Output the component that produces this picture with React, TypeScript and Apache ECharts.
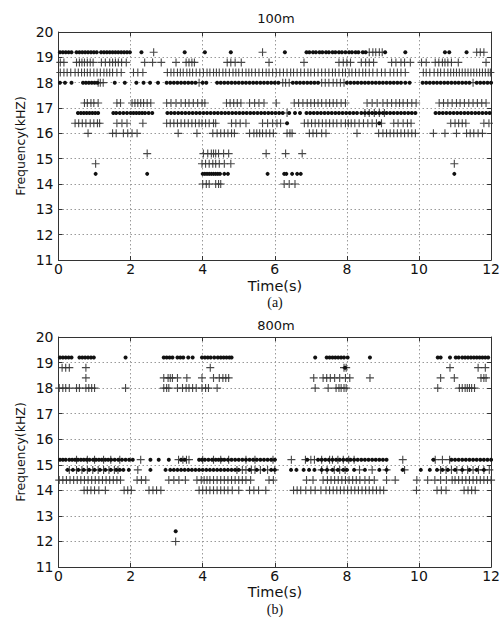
import React, { useEffect, useRef } from "react";
import * as echarts from "echarts";

// ---------- (a) 100m ----------
const a192Dots = [0.04,0.12,0.2,0.28,0.36,0.5,0.58,0.66,0.74,0.82,0.9,0.98,1.06,1.18,1.26,1.34,1.42,1.5,1.58,1.66,1.74,1.82,1.9,1.98,2.3,3.5,4.06,4.78,6.28,6.88,6.96,7.06,7.14,7.24,7.32,7.42,7.5,7.6,7.68,7.78,7.86,7.96,8.06,8.14,8.24,8.32,8.44,8.52,9.06,9.62,10.72,10.84,11.32];
const a192Plus = [2.64,5.66,8.62,8.72,8.8,8.9,8.98,11.6,11.7,11.8];
const a188Plus = [0.05,0.15,0.5,0.58,0.65,0.72,0.8,0.88,0.96,1.19,1.3,1.42,1.5,1.58,1.66,1.75,1.88,2.39,2.61,2.85,3.26,3.54,3.62,3.7,3.77,4.68,4.78,4.9,5.07,5.84,6.81,7.78,7.9,8.0,8.1,8.4,8.52,8.62,8.74,9.24,9.36,9.5,9.6,9.76,10.07,10.2,10.45,10.55,10.65,10.72,10.8,10.9,11.09,11.86];
const a184Plus = [0.05,0.15,0.24,0.34,0.46,0.55,0.64,0.72,0.8,0.88,0.98,1.07,1.16,1.26,1.34,1.42,1.5,1.62,1.74,2.08,2.2,2.34,3.02,3.12,3.2,3.3,3.38,3.46,3.56,3.64,3.72,3.82,3.92,4.02,4.12,4.2,4.3,4.38,4.46,4.56,4.64,4.74,4.84,4.92,5.0,5.1,5.2,5.28,5.36,5.46,5.56,5.66,5.76,5.84,5.94,6.04,6.14,6.24,6.34,6.44,6.52,6.62,6.72,6.82,6.92,7.0,7.1,7.2,7.3,7.4,7.5,7.6,7.68,7.78,7.88,7.96,8.06,8.14,8.24,8.34,8.44,8.52,8.62,8.72,8.84,8.96,9.06,9.2,9.3,9.4,9.5,9.62,10.12,10.2,10.3,10.42,10.52,10.6,10.7,10.8,10.88,10.96,11.04,11.12,11.2,11.28,11.36,11.44,11.52,11.6,11.68,11.76,11.84,11.92,11.98];
const a180Dots = [0.04,0.18,0.36,0.68,0.76,0.84,0.92,1.0,1.08,1.56,1.84,2.16,2.36,2.54,2.76,3.0,3.1,3.2,3.3,3.4,3.5,3.6,3.7,3.8,4.0,4.1,4.4,4.5,4.6,4.7,4.8,4.9,5.0,5.1,5.2,5.3,5.4,5.5,5.6,5.7,5.8,5.9,6.0,6.1,6.5,6.6,6.7,6.8,6.9,7.0,7.1,7.2,8.0,8.1,8.2,8.3,8.4,8.5,8.6,8.7,8.8,8.9,9.0,9.1,9.2,9.3,9.4,9.5,9.62,9.74,10.1,10.2,10.3,10.4,10.5,10.6,10.7,10.8,10.9,11.0,11.1,11.2,11.3,11.4,11.6,11.7,11.8,11.9,12.0];
const a180Plus = [1.1,1.16,1.24,3.9,6.22,6.3,6.4,7.3,7.4,7.5,7.62,7.72,7.82,7.92,11.5];
const a172Plus = [0.72,0.8,0.9,0.98,1.1,1.62,1.72,2.04,2.12,2.2,2.28,2.36,2.46,2.56,3.0,3.12,3.26,3.4,3.52,3.62,3.74,3.86,3.98,4.06,4.66,4.76,4.86,4.96,5.06,5.3,5.44,5.56,5.7,6.04,6.54,6.66,6.78,6.9,7.0,7.1,7.2,7.3,7.42,7.52,7.62,7.72,7.84,7.96,8.56,8.7,8.84,9.0,9.12,9.24,9.36,9.46,9.56,9.68,9.8,9.92,10.56,10.68,10.8,10.92,11.04,11.14,11.26,11.38,11.5,11.62,11.74,11.86];
const a168Dots = [0.54,0.62,0.7,0.78,0.86,0.94,1.02,1.1,1.52,1.6,1.7,1.8,1.9,2.0,2.08,2.16,2.24,2.32,2.4,2.5,2.6,3.02,3.12,3.22,3.32,3.42,3.52,3.62,3.72,3.82,3.92,4.02,4.12,4.22,4.32,4.42,4.52,4.62,4.72,4.82,4.92,5.02,5.12,5.22,5.32,5.42,5.52,5.62,5.72,5.82,5.92,6.02,6.12,6.22,6.4,6.56,6.7,6.88,6.98,7.08,7.18,7.28,7.38,7.48,7.58,7.68,7.78,7.88,7.98,8.08,8.18,8.28,8.4,8.5,8.6,8.7,8.8,8.9,9.0,9.1,9.2,9.3,9.4,9.5,9.6,9.7,9.8,9.9,10.46,10.56,10.66,10.76,10.86,10.96,11.06,11.16,11.26,11.36,11.46,11.56,11.66,11.76,11.86,11.96];
const a168Plus = [6.34,8.5,8.62,8.76,8.9,9.04];
const a164Plus = [0.46,0.56,0.66,0.76,0.88,0.98,1.08,1.14,1.62,1.76,1.9,2.34,3.0,3.1,3.2,3.3,3.4,3.5,3.6,3.7,3.8,3.9,3.98,4.08,4.18,4.3,4.36,4.8,4.92,5.04,5.2,5.66,5.8,5.94,6.06,6.16,6.82,6.92,7.02,7.12,7.22,7.32,7.42,7.52,7.62,7.72,7.84,7.96,8.04,8.12,8.22,8.34,8.46,8.58,8.7,8.82,8.96,9.3,9.42,9.56,9.68,9.78,10.88,11.0,11.1,11.2,11.3,11.8,11.94];
const a164Dots = [6.34,8.9];
const a160Plus = [0.82,1.5,1.6,1.8,1.92,2.04,2.18,3.32,3.84,4.28,4.4,4.5,4.6,4.7,4.8,4.88,5.3,5.42,5.5,5.58,5.66,5.76,5.86,5.96,6.34,6.42,6.48,6.96,7.06,7.16,7.3,7.42,8.28,8.88,9.0,9.1,9.2,9.3,9.4,9.5,9.6,9.7,9.8,9.9,10.4,10.72,11.04,11.32,11.42,11.52,11.64,11.76];
const a152Plus = [2.46,4.02,4.14,4.24,4.3,4.36,4.44,4.58,4.72,5.76,6.3,6.76];
const a148Plus = [1.03,3.98,4.08,4.18,4.28,4.36,4.46,4.6,4.78,10.98];
const a144Dots = [1.03,2.46,4.0,4.06,4.12,4.18,4.24,4.3,4.36,4.42,4.48,4.6,4.7,5.8,6.26,6.32,6.48,6.62,6.72,10.98];
const a140Plus = [4.0,4.1,4.18,4.36,4.44,4.5,6.26,6.4,6.56];

// ---------- (b) 800m ----------
const b192Dots = [0.04,0.12,0.2,0.28,0.36,0.58,0.66,0.74,0.82,0.9,0.98,1.86,2.92,3.0,3.08,3.16,3.3,3.38,3.46,3.6,3.72,3.98,4.06,4.14,4.22,4.32,4.42,4.5,4.58,4.66,4.74,4.8,7.12,7.44,7.52,7.6,7.68,7.76,7.84,7.92,8.02,8.64,10.52,10.6,10.86,11.02,11.1,11.2,11.28,11.36,11.44,11.52,11.6,11.68,11.76,11.84,11.92];
const b188Plus = [0.1,0.2,0.3,0.76,4.21,7.92,7.98,10.86,11.64,11.84];
const b188Dots = [7.95];
const b184Plus = [0.76,2.92,3.04,3.1,3.16,3.3,3.56,3.98,4.3,4.46,4.56,4.64,4.72,7.08,7.34,7.44,7.54,7.66,7.8,7.96,8.08,8.64,10.6,10.98,11.72,11.8,11.86];
const b180Plus = [0.02,0.12,0.2,0.3,0.5,0.58,0.76,0.84,0.92,1.0,1.86,2.92,3.0,3.06,3.3,3.44,3.54,3.62,3.72,3.82,3.98,4.08,4.16,4.4,7.12,7.48,7.7,7.78,7.84,7.92,7.98,10.52,11.12,11.2,11.28,11.34,11.4,11.46,11.54];
const b152Dots = [0.04,0.12,0.2,0.3,0.38,0.46,0.54,0.62,0.7,0.78,0.86,0.96,1.04,1.12,1.2,1.3,1.38,1.46,1.56,1.66,1.76,1.86,1.96,2.06,2.55,2.78,3.06,3.4,3.5,3.9,3.98,4.06,4.16,4.26,4.36,4.44,4.52,4.6,4.7,4.8,4.9,5.0,5.1,5.2,5.3,5.4,5.5,5.6,5.7,5.8,5.9,6.0,6.9,7.2,7.3,7.4,7.5,7.6,7.7,7.8,7.9,8.0,8.1,8.2,8.3,8.4,8.5,8.6,8.7,8.8,8.9,9.0,9.1,10.4,10.9,11.0,11.1,11.2,11.3,11.4,11.5,11.6,11.7,11.8,11.9,12.0];
const b152Plus = [0.5,0.8,1.0,1.25,1.45,1.7,2.28,3.33,3.45,3.55,3.62,4.0,4.3,4.5,4.72,5.2,5.45,5.95,6.46,6.85,7.0,7.1,7.3,7.52,7.6,7.75,7.9,8.05,8.2,9.55,10.45,10.65,10.85];
const b148Dots = [0.25,0.4,0.55,0.7,0.85,1.0,1.15,1.3,1.45,1.6,1.7,1.8,1.95,2.55,2.97,3.1,3.2,3.3,3.4,3.5,3.6,3.7,3.8,3.9,4.0,4.1,4.2,4.3,4.4,4.5,4.6,4.7,4.8,4.9,5.0,5.3,5.5,5.7,5.9,6.0,6.45,6.6,6.8,6.95,7.1,7.3,7.45,7.6,7.75,7.9,8.0,8.2,8.5,8.9,9.1,9.55,10.05,10.3,10.5,10.65,10.8,11.0,11.2,11.4,11.6,11.8];
const b148Plus = [0.3,0.5,0.65,0.8,0.95,1.1,1.25,1.4,1.55,1.65,2.2,4.95,5.1,5.2,5.35,5.45,5.6,5.8,6.0,7.3,7.45,7.65,7.8,7.95,8.35,8.7,9.1,9.6,10.6,10.75,10.9,11.05,11.2,11.35,11.5,11.65,11.8,11.95];
const b144Plus = [0.02,0.12,0.22,0.32,0.42,0.52,0.62,0.72,0.82,0.92,1.02,1.12,1.22,1.32,1.42,1.52,1.62,1.72,2.18,2.3,2.42,3.06,3.2,3.34,3.52,3.84,3.96,4.04,4.12,4.2,4.3,4.4,4.5,4.6,4.7,4.8,4.9,5.0,5.1,5.2,5.33,5.84,5.96,6.88,7.06,7.34,7.46,7.56,7.66,7.76,7.86,7.96,8.06,8.16,8.26,8.36,8.5,8.62,8.76,9.1,9.34,9.94,10.24,10.44,10.6,10.76,10.92,11.0,11.1,11.2,11.3,11.4,11.5,11.6,11.7,11.8,11.9,12.0];
const b140Plus = [0.71,0.8,0.9,1.0,1.12,1.3,1.82,1.92,2.02,2.51,2.62,2.72,2.84,3.9,4.0,4.1,4.2,4.3,4.4,4.5,4.6,4.7,4.82,5.0,5.3,5.42,5.55,5.75,6.52,6.62,6.72,6.86,7.0,7.12,7.28,7.42,7.52,7.62,7.72,7.82,7.92,8.02,8.12,8.22,8.32,8.42,8.52,8.62,8.72,8.82,8.92,9.02,9.93,10.5,10.62,10.75,11.25,11.36,11.46,11.56];
const b124Dots = [3.25];
const b120Plus = [3.25];

const xTicks = { min: 0, max: 12, interval: 2 };
const yTicks = { min: 11, max: 20, interval: 1 };

const pts = (xs: number[], y: number) => xs.map((x) => [x, y]);

const aDots = [
  ...pts(a192Dots, 19.2), ...pts(a180Dots, 18.0), ...pts(a168Dots, 16.8),
  ...pts(a164Dots, 16.4), ...pts(a144Dots, 14.4),
];
const aPlus = [
  ...pts(a192Plus, 19.2), ...pts(a188Plus, 18.8), ...pts(a184Plus, 18.4),
  ...pts(a180Plus, 18.0), ...pts(a172Plus, 17.2), ...pts(a168Plus, 16.8),
  ...pts(a164Plus, 16.4), ...pts(a160Plus, 16.0), ...pts(a152Plus, 15.2),
  ...pts(a148Plus, 14.8), ...pts(a140Plus, 14.0),
];
const bDots = [
  ...pts(b192Dots, 19.2), ...pts(b188Dots, 18.8), ...pts(b152Dots, 15.2),
  ...pts(b148Dots, 14.8), ...pts(b124Dots, 12.4),
];
const bPlus = [
  ...pts(b188Plus, 18.8), ...pts(b184Plus, 18.4), ...pts(b180Plus, 18.0),
  ...pts(b152Plus, 15.2), ...pts(b148Plus, 14.8), ...pts(b144Plus, 14.4),
  ...pts(b140Plus, 14.0), ...pts(b120Plus, 12.0),
];

const FONT = "DejaVu Sans";
const PLUS = "path://M0,3.45H8V4.55H0Z M3.45,0H4.55V8H3.45Z";

function mkX(gridIndex: number, top: boolean) {
  return {
    type: "value",
    gridIndex,
    position: top ? "top" : "bottom",
    ...xTicks,
    axisLine: { show: true, onZero: false, lineStyle: { color: "#333", width: 1 } },
    axisTick: { show: true, inside: true, length: 4, lineStyle: { color: "#333" } },
    axisLabel: top
      ? { show: false }
      : { show: true, fontFamily: FONT, fontSize: 14, color: "#111", margin: 2 },
    splitLine: top
      ? { show: false }
      : { show: true, lineStyle: { color: "#9a9a9a", type: [1.5, 2.5], width: 1 } },
  };
}
function mkY(gridIndex: number, right: boolean) {
  return {
    type: "value",
    gridIndex,
    position: right ? "right" : "left",
    ...yTicks,
    axisLine: { show: true, onZero: false, lineStyle: { color: "#333", width: 1 } },
    axisTick: { show: true, inside: true, length: 4, lineStyle: { color: "#333" } },
    axisLabel: right
      ? { show: false }
      : { show: true, fontFamily: FONT, fontSize: 14, color: "#111", margin: 5 },
    splitLine: right
      ? { show: false }
      : { show: true, lineStyle: { color: "#9a9a9a", type: [1.5, 2.5], width: 1 } },
  };
}

function dotSeries(data: number[][], gi: number) {
  return {
    type: "scatter",
    xAxisIndex: gi * 2,
    yAxisIndex: gi * 2,
    data,
    symbol: "circle",
    symbolSize: 4,
    itemStyle: { color: "#111", opacity: 1 },
    silent: true,
  };
}
function plusSeries(data: number[][], gi: number) {
  return {
    type: "scatter",
    xAxisIndex: gi * 2,
    yAxisIndex: gi * 2,
    data,
    symbol: PLUS,
    symbolSize: 8,
    itemStyle: { color: "#333", opacity: 0.9 },
    silent: true,
  };
}

function txt(text: string, x: number, y: number, size: number, opts: any = {}) {
  return {
    type: "text",
    x,
    y,
    rotation: opts.rotation || 0,
    style: {
      text,
      fontFamily: opts.family || FONT,
      fontSize: size,
      fill: "#111",
      align: "center",
      verticalAlign: "middle",
    },
  };
}

export default function App() {
  const ref = useRef<HTMLDivElement>(null);
  useEffect(() => {
    document.body.style.margin = "0";
    if (!ref.current) return;
    const chart = echarts.init(ref.current, undefined, { renderer: "svg" });
    chart.setOption({
      animation: false,
      backgroundColor: "#fff",
      grid: [
        { left: 58.5, right: 10, top: 32, height: 228, show: false },
        { left: 58.5, right: 10, top: 337, height: 230, show: false },
      ],
      xAxis: [mkX(0, false), mkX(0, true), mkX(1, false), mkX(1, true)],
      yAxis: [mkY(0, false), mkY(0, true), mkY(1, false), mkY(1, true)],
      series: [
        plusSeries(aPlus, 0),
        dotSeries(aDots, 0),
        plusSeries(bPlus, 1),
        dotSeries(bDots, 1),
      ],
      graphic: [
        txt("100m", 276, 18, 13),
        txt("Time(s)", 275, 285.5, 14.5),
        txt("(a)", 275, 302, 14, { family: "Liberation Serif" }),
        txt("Frequency(kHZ)", 20, 146, 12.5, { rotation: Math.PI / 2 }),
        txt("800m", 276, 325, 13),
        txt("Time(s)", 275, 591.5, 14.5),
        txt("(b)", 275, 609.5, 14, { family: "Liberation Serif" }),
        txt("Frequency(kHZ)", 20, 452, 12.5, { rotation: Math.PI / 2 }),
      ],
    });
    return () => chart.dispose();
  }, []);
  return <div ref={ref} style={{ width: 503, height: 617 }} />;
}
